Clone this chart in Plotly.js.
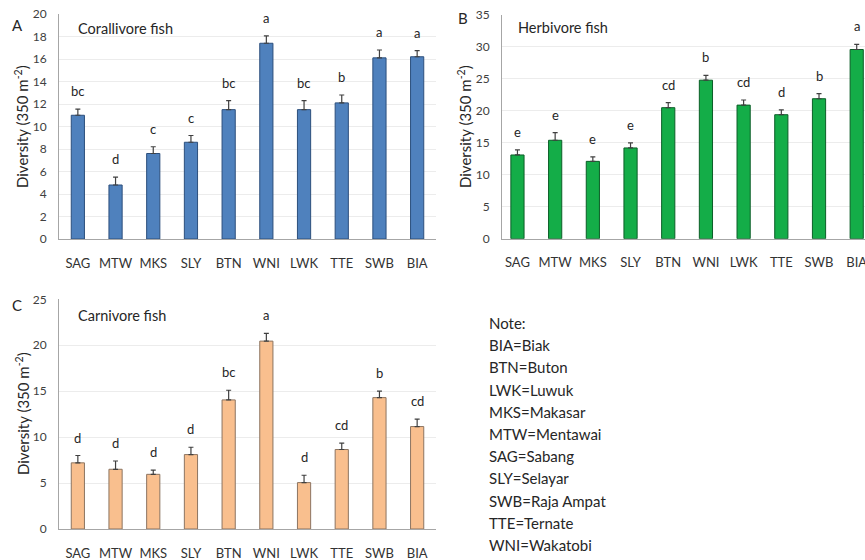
<!DOCTYPE html>
<html><head><meta charset="utf-8">
<script src="https://cdn.plot.ly/plotly-3.0.1.min.js"></script>
<style>body{margin:0;background:#fff}#chart{width:865px;height:560px}</style>
</head><body><div id="chart"></div>
<script>
const sites = ["SAG","MTW","MKS","SLY","BTN","WNI","LWK","TTE","SWB","BIA"];

const coralMean = [11.0, 4.8, 7.6, 8.6, 11.5, 17.4, 11.5, 12.1, 16.1, 16.2];
const coralErr  = [0.55, 0.7, 0.6, 0.6, 0.8, 0.65, 0.8, 0.7, 0.7, 0.55];
const coralLetters = ["bc","d","c","c","bc","a","bc","b","a","a"];

const herbMean = [13.1, 15.4, 12.1, 14.2, 20.5, 24.8, 20.9, 19.4, 21.9, 29.6];
const herbErr  = [0.8, 1.2, 0.7, 0.8, 0.8, 0.75, 0.8, 0.75, 0.8, 0.8];
const herbLetters = ["e","e","e","e","cd","b","cd","d","b","a"];

const carnMean = [7.2, 6.5, 5.95, 8.1, 14.05, 20.45, 5.05, 8.65, 14.3, 11.15];
const carnErr  = [0.8, 0.9, 0.45, 0.8, 1.05, 0.85, 0.8, 0.7, 0.7, 0.8];
const carnLetters = ["d","d","d","d","bc","a","d","cd","b","cd"];

const noteLines = ["Note:","BIA=Biak","BTN=Buton","LWK=Luwuk","MKS=Makasar","MTW=Mentawai","SAG=Sabang","SLY=Selayar","SWB=Raja Ampat","TTE=Ternate","WNI=Wakatobi"];
const yTitle = "Diversity (350 m<sup>-2</sup>)";

const FONT = "Lato, 'Open Sans', sans-serif";
const W = 865, H = 560;
const px = v => v / W;
const py = v => 1 - v / H;

function barTrace(y, err, fill, line, xa, ya) {
  return {
    type: "bar", x: sites, y: y, xaxis: xa, yaxis: ya, width: 0.35,
    marker: {color: fill, line: {color: line, width: 1}},
    error_y: {type: "data", symmetric: false, array: err, arrayminus: err.map(() => 0),
              color: "#404040", thickness: 1.2, width: 2.5},
    hoverinfo: "skip", showlegend: false
  };
}

const data = [
  barTrace(coralMean, coralErr, "#4f81bd", "#2c4f7c", "x", "y"),
  barTrace(herbMean, herbErr, "#14ad48", "#0b5e27", "x2", "y2"),
  barTrace(carnMean, carnErr, "#f9bf8e", "#8c7461", "x3", "y3")
];

const annotations = [];
function letters(mean, err, lab, xr, yr) {
  lab.forEach((t, i) => annotations.push({
    x: sites[i], y: mean[i] + err[i], xref: xr, yref: yr, text: t, showarrow: false,
    yanchor: "bottom", yshift: 8, font: {family: FONT, size: 13, color: "#262626"}
  }));
}
letters(coralMean, coralErr, coralLetters, "x", "y");
letters(herbMean, herbErr, herbLetters, "x2", "y2");
letters(carnMean, carnErr, carnLetters, "x3", "y3");

function paperText(t, x, y, size, anchor, angle) {
  annotations.push({text: t, x: px(x), y: py(y), xref: "paper", yref: "paper", showarrow: false,
    xanchor: anchor || "left", yanchor: "middle", textangle: angle || 0,
    font: {family: FONT, size: size, color: "#262626"}});
}
paperText("A", 10, 25, 15);
paperText("B", 456, 18, 15);
paperText("C", 10, 305, 15);
paperText("Corallivore fish", 76, 28, 14.5);
paperText("Herbivore fish", 516, 27, 14.5);
paperText("Carnivore fish", 76, 315, 14.5);
paperText(yTitle, 22, 127, 15, "center", -90);
paperText(yTitle, 465, 127, 15, "center", -90);
paperText(yTitle, 22, 414, 15, "center", -90);
noteLines.forEach((t, i) => paperText(t, 487, 323 + i * 22.2, 15));

function xax(domain, range) {
  return {domain: domain, range: range, showgrid: false, showline: true, linecolor: "#a6a6a6",
    linewidth: 1, ticks: "", ticklabelstandoff: 12, fixedrange: true,
    tickfont: {family: FONT, size: 13, color: "#333"}};
}
function yax(domain, range, dtick) {
  return {domain: domain, range: range, dtick: dtick, showgrid: true, gridcolor: "#ececec",
    showline: true, linecolor: "#a6a6a6", linewidth: 1, ticks: "", zeroline: false,
    ticklabelstandoff: 9, fixedrange: true,
    tickfont: {family: FONT, size: 12, color: "#404040"}};
}

const layout = {
  width: W, height: H, margin: {l: 0, r: 0, t: 0, b: 0},
  paper_bgcolor: "#fff", plot_bgcolor: "#fff",
  font: {family: FONT},
  xaxis:  xax([px(59), px(436)], [-0.5, 9.5]),
  yaxis:  yax([py(239), py(14)], [0, 20], 2),
  xaxis2: xax([px(502), 1], [-0.41, 9.22]),
  yaxis2: yax([py(238.7), py(15)], [0, 35], 5),
  xaxis3: xax([px(59), px(436)], [-0.5, 9.5]),
  yaxis3: yax([py(529), py(299.3)], [0, 25], 5),
  annotations: annotations
};
layout.xaxis2.anchor = "y2"; layout.yaxis2.anchor = "x2";
layout.xaxis3.anchor = "y3"; layout.yaxis3.anchor = "x3";

Plotly.newPlot("chart", data, layout, {staticPlot: true});
</script></body></html>
